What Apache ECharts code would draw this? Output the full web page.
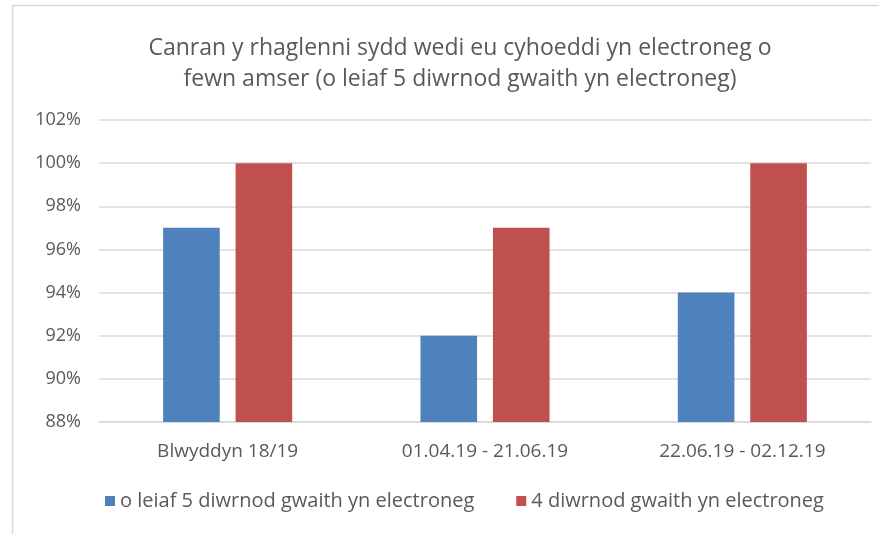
<!DOCTYPE html>
<html>
<head>
<meta charset="utf-8">
<script src="https://cdn.jsdelivr.net/npm/echarts@6/dist/echarts.min.js"></script>
<style>
  html, body { margin: 0; padding: 0; background: #fff; }
  #chart { width: 879px; height: 534px; }
</style>
</head>
<body>
<div id="chart"></div>
<script>
// data
const categories = ["Blwyddyn 18/19", "01.04.19 - 21.06.19", "22.06.19 - 02.12.19"];
const seriesNames = ["o leiaf 5 diwrnod gwaith yn electroneg", "4 diwrnod gwaith yn electroneg"];
const fiveDays = [97, 92, 94];
const fourDays = [100, 97, 100];
const titleText = "Canran y rhaglenni sydd wedi eu cyhoeddi yn electroneg o\nfewn amser (o leiaf 5 diwrnod gwaith yn electroneg)";

const font = "'Open Sans', sans-serif";
const textColor = "#595959";

const myChart = echarts.init(document.getElementById("chart"));
const option = {
  animation: false,
  color: ["#4f81bd", "#c0504d"],
  textStyle: { fontFamily: font },
  graphic: [
    {
      type: "rect",
      shape: { x: 12.5, y: 5.5, width: 900, height: 560 },
      style: { fill: "none", stroke: "#d9d9d9", lineWidth: 1.5 },
    },
  ],
  title: {
    text: titleText,
    left: 455,
    top: 28,
    textAlign: "center",
    textStyle: {
      fontFamily: font,
      fontWeight: "normal",
      fontSize: 23,
      color: textColor,
      lineHeight: 31,
    },
  },
  legend: {
    data: seriesNames,
    left: 100,
    top: 486,
    itemWidth: 10,
    itemHeight: 10,
    itemGap: 42,
    icon: "rect",
    textStyle: { fontFamily: font, fontSize: 20, color: textColor },
  },
  grid: {
    left: 99,
    right: 8,
    top: 120,
    bottom: 112,
  },
  xAxis: {
    type: "category",
    data: categories,
    axisLine: { lineStyle: { color: "#d9d9d9", width: 1.5 } },
    axisTick: { show: false },
    axisLabel: {
      fontFamily: font,
      fontSize: 19,
      color: textColor,
      margin: 20,
    },
  },
  yAxis: {
    type: "value",
    min: 88,
    max: 102,
    interval: 2,
    axisLine: { show: false },
    axisTick: { show: false },
    splitLine: { lineStyle: { color: "#d9d9d9", width: 1.5 } },
    axisLabel: {
      fontFamily: font,
      fontSize: 18,
      color: textColor,
      margin: 18,
      formatter: "{value}%",
    },
  },
  series: [
    {
      name: seriesNames[0],
      type: "bar",
      data: fiveDays,
      barWidth: "22%",
      barGap: "28%",
    },
    {
      name: seriesNames[1],
      type: "bar",
      data: fourDays,
      barWidth: "22%",
      barGap: "28%",
    },
  ],
};
option && myChart.setOption(option);
</script>
</body>
</html>
